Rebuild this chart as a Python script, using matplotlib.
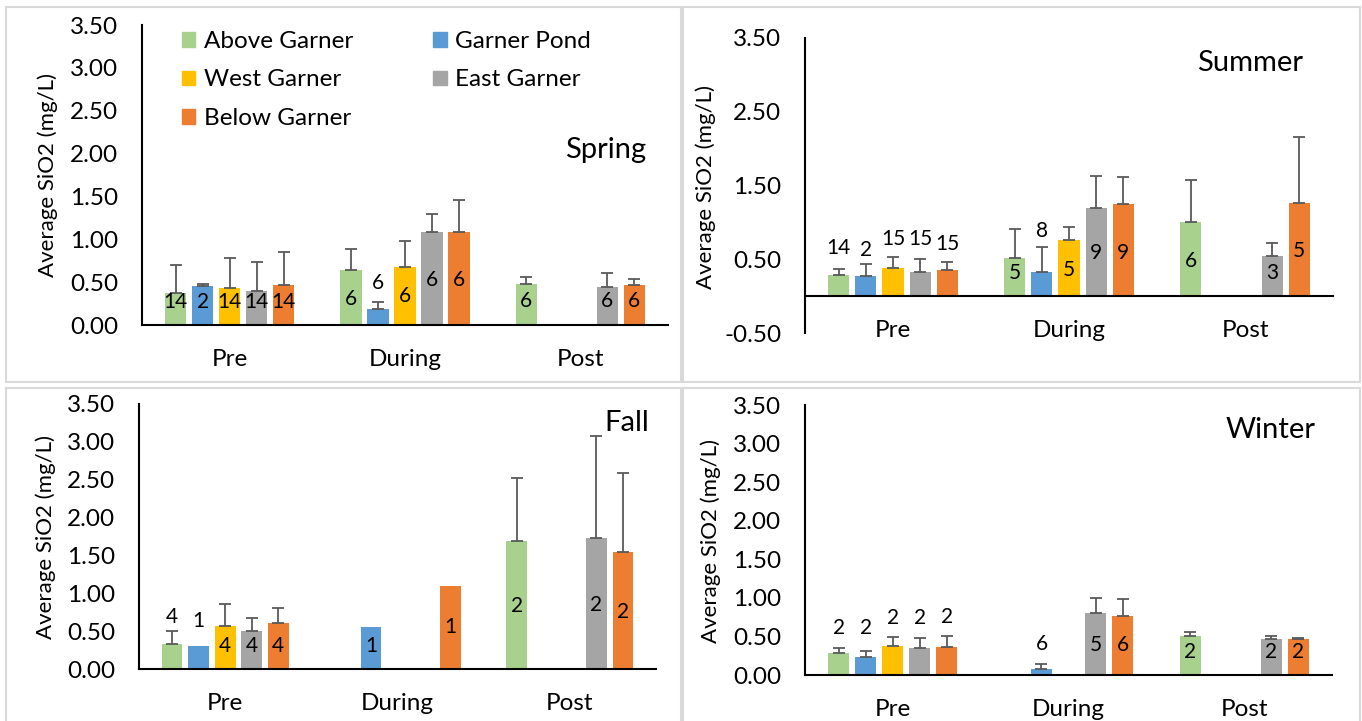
"""
季节性 SiO2 均值柱状图
四个季节面板，每个面板按 Pre / During / Post 分组，柱上标注样本数
"""

import matplotlib
matplotlib.use("Agg")
import matplotlib.pyplot as plt
from matplotlib.patches import Rectangle
import numpy as np

plt.rcParams['font.family'] = ['Lato', 'DejaVu Sans']

W, H = 1362, 721

SITES = ["Above Garner", "Garner Pond", "West Garner", "East Garner", "Below Garner"]
PERIODS = ["Pre", "During", "Post"]
COLORS = ["#A9D18E", "#5B9BD5", "#FFC000", "#A5A5A5", "#ED7D31"]
ERR_COLOR = "#595959"

N = None  # 该时段无数据

# 每行对应一个时段，每列对应一个站点
spring_mean = [[0.37, 0.46, 0.43, 0.40, 0.47],
               [0.64, 0.19, 0.68, 1.09, 1.09],
               [0.475, N, N, 0.44, 0.463]]
spring_err = [[0.33, 0.015, 0.355, 0.34, 0.385],
              [0.25, 0.08, 0.30, 0.21, 0.37],
              [0.08, N, N, 0.17, 0.075]]
spring_n = [[14, 2, 14, 14, 14],
            [6, 6, 6, 6, 6],
            [6, N, N, 6, 6]]
spring_label_y = [[0.27, 0.27, 0.27, 0.27, 0.27],
                  [0.30, 0.49, 0.34, 0.53, 0.53],
                  [0.28, N, N, 0.28, 0.28]]

summer_mean = [[0.285, 0.267, 0.38, 0.325, 0.35],
               [0.52, 0.325, 0.76, 1.20, 1.25],
               [1.00, N, N, 0.54, 1.265]]
summer_err = [[0.08, 0.175, 0.145, 0.185, 0.11],
              [0.39, 0.345, 0.18, 0.43, 0.36],
              [0.58, N, N, 0.18, 0.895]]
summer_n = [[14, 2, 15, 15, 15],
            [5, 8, 5, 9, 9],
            [6, N, N, 3, 5]]
summer_label_y = [[0.65, 0.62, 0.78, 0.78, 0.70],
                  [0.32, 0.88, 0.35, 0.59, 0.59],
                  [0.48, N, N, 0.32, 0.61]]

fall_mean = [[0.335, 0.31, 0.57, 0.50, 0.61],
             [N, 0.553, N, N, 1.09],
             [1.69, N, N, 1.73, 1.54]]
fall_err = [[0.165, N, 0.29, 0.17, 0.20],
            [N, N, N, N, N],
            [0.83, N, N, 1.35, 1.055]]
fall_n = [[4, 1, 4, 4, 4],
          [N, 1, N, N, 1],
          [2, N, N, 2, 2]]
fall_label_y = [[0.69, 0.63, 0.31, 0.31, 0.31],
                [N, 0.31, N, N, 0.56],
                [0.83, N, N, 0.85, 0.75]]

winter_mean = [[0.29, 0.237, 0.376, 0.346, 0.363],
               [N, 0.074, N, 0.81, 0.765],
               [0.50, N, N, 0.47, 0.463]]
winter_err = [[0.064, 0.078, 0.121, 0.138, 0.147],
              [N, 0.073, N, 0.19, 0.22],
              [0.06, N, N, 0.03, 0.017]]
winter_n = [[2, 2, 2, 2, 2],
            [N, 6, N, 5, 6],
            [2, N, N, 2, 2]]
winter_label_y = [[0.605, 0.605, 0.735, 0.735, 0.756],
                  [N, 0.40, N, 0.39, 0.39],
                  [0.30, N, N, 0.30, 0.30]]

SLOT = 0.154    # 同组相邻柱中心距（类别宽度为 1）
BAR_W = 0.12


def px_rect(left, top, right, bottom):
    """像素坐标 -> figure 坐标 [l, b, w, h]"""
    return [left / W, 1 - bottom / H, (right - left) / W, (bottom - top) / H]


def draw_panel(fig, box, mean, err, n, label_y, ylim, yticks,
               title, title_xy, ylabel_xy):
    """绘制单个季节面板"""
    ax = fig.add_axes(px_rect(*box))

    for i in range(len(PERIODS)):
        for j in range(len(SITES)):
            m = mean[i][j]
            if m is None:
                continue
            x = i + (j - 2) * SLOT
            ax.bar(x, m, width=BAR_W, color=COLORS[j], zorder=2)
            e = err[i][j]
            if e is not None:
                ax.errorbar(x, m, yerr=[[0], [e]], fmt='none', ecolor=ERR_COLOR,
                            elinewidth=1.3, capsize=4.5, capthick=1.3, zorder=3)
            ax.text(x, label_y[i][j], str(n[i][j]), ha='center', va='center',
                    fontsize=15, color='black', zorder=4)

    ax.set_xlim(-0.5, len(PERIODS) - 0.5)
    ax.set_ylim(*ylim)
    ax.set_yticks(yticks)
    ax.set_yticklabels([f"{t:.2f}" for t in yticks])
    ax.set_xticks(range(len(PERIODS)))
    ax.set_xticklabels(PERIODS)

    ax.spines['top'].set_visible(False)
    ax.spines['right'].set_visible(False)
    ax.spines['left'].set_linewidth(1.5)
    ax.spines['bottom'].set_linewidth(1.5)
    ax.spines['bottom'].set_position(('data', 0))
    ax.spines['bottom'].set_zorder(5)

    ax.tick_params(axis='y', length=0, pad=17, labelsize=17.5)
    ax.tick_params(axis='x', length=0, pad=17, labelsize=17.5)
    ax.set_facecolor('none')

    fig.text(title_xy[0] / W, 1 - title_xy[1] / H, title,
             ha='center', va='center', fontsize=21)
    fig.text(ylabel_xy[0] / W, 1 - ylabel_xy[1] / H, "Average SiO2 (mg/L)",
             ha='center', va='center', rotation=90, fontsize=16)
    return ax


def main():
    fig = plt.figure(figsize=(W / 100, H / 100), dpi=100)

    # 面板外框
    for l, t, r, b in [(6, 7, 681, 382), (683, 7, 1360, 382),
                       (6, 388, 681, 740), (683, 388, 1360, 740)]:
        fig.patches.append(Rectangle((l / W, 1 - b / H), (r - l) / W, (b - t) / H,
                                     transform=fig.transFigure, fill=False,
                                     edgecolor='#d9d9d9', linewidth=1.5))

    half = np.arange(0, 3.51, 0.5)
    ax_spring = draw_panel(fig, (142, 25, 668, 325), spring_mean, spring_err,
                           spring_n, spring_label_y, (0, 3.5), half,
                           "Spring", (606, 150), (48, 175))
    draw_panel(fig, (805, 38, 1333, 333), summer_mean, summer_err,
               summer_n, summer_label_y, (-0.5, 3.5), np.arange(-0.5, 3.51, 1.0),
               "Summer", (1250, 63), (706, 187))
    draw_panel(fig, (139, 404, 656, 669), fall_mean, fall_err,
               fall_n, fall_label_y, (0, 3.5), half,
               "Fall", (627, 423), (46, 537))
    draw_panel(fig, (805, 405, 1332, 675), winter_mean, winter_err,
               winter_n, winter_label_y, (0, 3.5), half,
               "Winter", (1271, 430), (711, 541))

    # 图例：两列，按行排列
    handles = [Rectangle((0, 0), 1, 1, color=c) for c in COLORS]
    order = [0, 2, 4, 1, 3]
    ax_spring.legend([handles[k] for k in order], [SITES[k] for k in order],
                     ncol=2, loc='upper left', frameon=False, fontsize=17.5,
                     bbox_to_anchor=(182 / W, 1 - 31 / H),
                     bbox_transform=fig.transFigure, borderaxespad=0, borderpad=0,
                     handlelength=0.55, handleheight=0.55, handletextpad=0.35,
                     columnspacing=3.3, labelspacing=0.72)

    fig.savefig("out.png", dpi=100, facecolor='white')
    plt.close(fig)


if __name__ == "__main__":
    main()
